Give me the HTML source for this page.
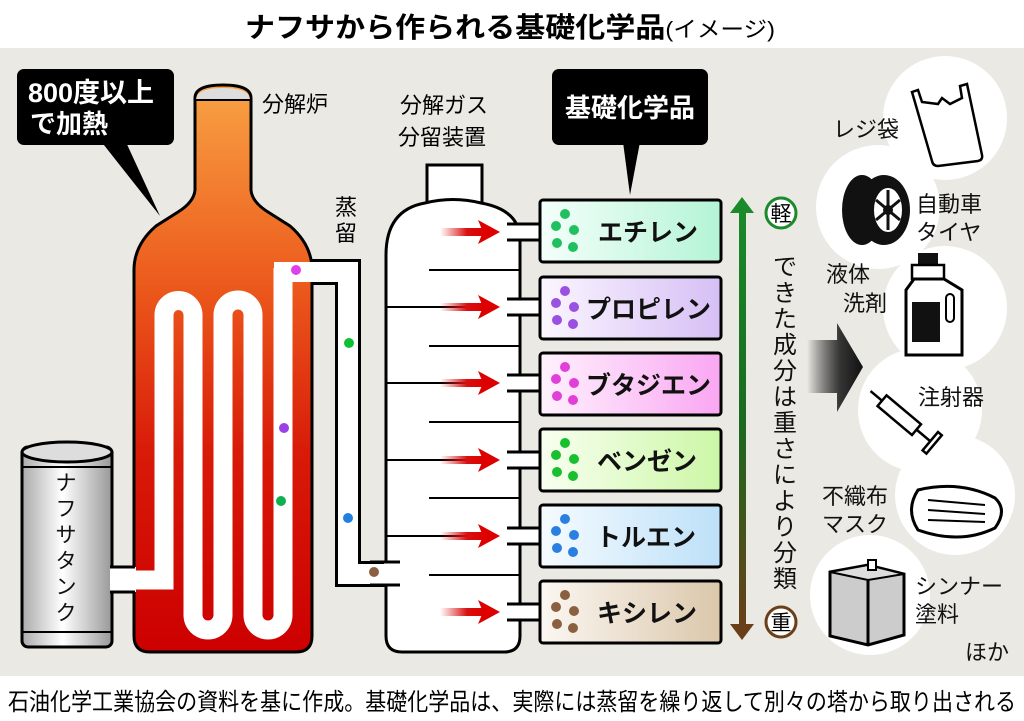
<!DOCTYPE html>
<html><head><meta charset="utf-8"><style>
html,body{margin:0;padding:0;background:#fff;}
svg{display:block;font-family:"Liberation Sans","Noto Sans CJK JP",sans-serif;}
</style></head><body>
<svg width="1024" height="721" viewBox="0 0 1024 721" xmlns="http://www.w3.org/2000/svg">
<defs>
<linearGradient id="fur" x1="0" y1="0" x2="0" y2="1">
<stop offset="0" stop-color="#f8a244"/><stop offset="0.35" stop-color="#ec5a1c"/><stop offset="0.65" stop-color="#d81a08"/><stop offset="1" stop-color="#cc0000"/></linearGradient>
<linearGradient id="tank" x1="0" y1="0" x2="1" y2="0">
<stop offset="0" stop-color="#aaa"/><stop offset="0.45" stop-color="#fff"/><stop offset="1" stop-color="#999"/></linearGradient>
<linearGradient id="arr" x1="0" y1="0" x2="1" y2="0">
<stop offset="0" stop-color="#e02020" stop-opacity="0"/><stop offset="0.6" stop-color="#d81010"/><stop offset="1" stop-color="#d00"/></linearGradient>
<linearGradient id="ga" x1="0" y1="0" x2="0" y2="1">
<stop offset="0" stop-color="#1a8a2a"/><stop offset="0.5" stop-color="#1a6a20"/><stop offset="1" stop-color="#6a3e18"/></linearGradient>
<linearGradient id="big" x1="0" y1="0" x2="1" y2="0">
<stop offset="0" stop-color="#000" stop-opacity="0"/><stop offset="0.6" stop-color="#333"/><stop offset="1" stop-color="#111"/></linearGradient>
<linearGradient id="g1" x1="0" x2="1"><stop offset="0" stop-color="#f4fffa"/><stop offset="1" stop-color="#b4f4d6"/></linearGradient>
<linearGradient id="g2" x1="0" x2="1"><stop offset="0" stop-color="#fbf6ff"/><stop offset="1" stop-color="#d6bff5"/></linearGradient>
<linearGradient id="g3" x1="0" x2="1"><stop offset="0" stop-color="#fff2fd"/><stop offset="1" stop-color="#f9a6f2"/></linearGradient>
<linearGradient id="g4" x1="0" x2="1"><stop offset="0" stop-color="#f8fff0"/><stop offset="1" stop-color="#ccf7a6"/></linearGradient>
<linearGradient id="g5" x1="0" x2="1"><stop offset="0" stop-color="#f6fbff"/><stop offset="1" stop-color="#bde0f8"/></linearGradient>
<linearGradient id="g6" x1="0" x2="1"><stop offset="0" stop-color="#fbf7f2"/><stop offset="1" stop-color="#dbc7ab"/></linearGradient>
<g id="arrow"><rect x="440" y="-4" width="45" height="8" fill="url(#arr)"/><path d="M478,-12 L500,0 L478,12 L483,0 Z" fill="#d00"/></g>
</defs>
<rect x="0" y="0" width="1024" height="721" fill="#fff"/>
<rect x="0" y="48" width="1024" height="628" fill="#ebe9e3"/>
<text x="510" y="37" font-size="28" font-weight="bold" text-anchor="middle" textLength="530" lengthAdjust="spacingAndGlyphs">ナフサから作られる基礎化学品<tspan font-weight="normal" font-size="22">(イメージ)</tspan></text>
<text x="8" y="710" font-size="24" textLength="1008" lengthAdjust="spacingAndGlyphs">石油化学工業協会の資料を基に作成。基礎化学品は、実際には蒸留を繰り返して別々の塔から取り出される</text>

<rect x="17" y="69" width="157" height="76" rx="7" fill="#000"/>
<path d="M100,140 L125,140 L160,216 Z" fill="#000"/>
<text x="28" y="102" font-size="27" fill="#fff" font-weight="bold">800度以上</text>
<text x="30" y="133" font-size="26" fill="#fff" font-weight="bold">で加熱</text>

<path d="M195,98 Q195,85 223,85 Q251,85 251,98 L251,190 Q252,202 268,212 L290,226 Q312,245 312,270 L312,636 Q312,652 296,652 L150,652 Q134,652 134,636 L134,270 Q134,245 156,226 L178,212 Q194,202 195,190 Z" fill="url(#fur)" stroke="#000" stroke-width="3"/>
<path d="M196,100 Q196,88 223,88 Q250,88 250,100 Z" fill="#ddd"/>
<line x1="196" y1="100" x2="250" y2="100" stroke="#000" stroke-width="2"/>
<text x="262" y="112" font-size="22">分解炉</text>

<rect x="22" y="447" width="90" height="200" rx="6" fill="url(#tank)" stroke="#000" stroke-width="3"/>
<ellipse cx="67" cy="452" rx="45" ry="10" fill="#ddd" stroke="#000" stroke-width="3"/>
<line x1="22" y1="467" x2="112" y2="467" stroke="#000" stroke-width="2"/>
<line x1="22" y1="632" x2="112" y2="632" stroke="#000" stroke-width="2"/>
<text font-size="21" text-anchor="middle" fill="#111"><tspan x="66" y="490">ナ</tspan><tspan x="66" y="516">フ</tspan><tspan x="66" y="542">サ</tspan><tspan x="66" y="568">タ</tspan><tspan x="66" y="594">ン</tspan><tspan x="66" y="620">ク</tspan></text>
<rect x="110" y="567" width="26" height="25" fill="#fff"/>
<line x1="110" y1="567" x2="135" y2="567" stroke="#000" stroke-width="3"/>
<line x1="110" y1="592" x2="135" y2="592" stroke="#000" stroke-width="3"/>

<path d="M134,580 L164,580 L164,315 A14.5,14.5 0 0 1 193,315 L193,615 A15,15 0 0 0 223,615 L223,315 A15,15 0 0 1 253,315 L253,615 A15,15 0 0 0 283,615 L283,268" fill="none" stroke="#fff" stroke-width="19"/>
<path d="M312,272 L348,272 L348,574 L402,574" fill="none" stroke="#000" stroke-width="26"/>
<path d="M274,272 L348,272 L348,574 L402,574" fill="none" stroke="#fff" stroke-width="20"/>
<text font-size="22" text-anchor="middle"><tspan x="346" y="215">蒸</tspan><tspan x="346" y="241">留</tspan></text>
<circle cx="296" cy="270" r="5" fill="#e040e8"/>
<circle cx="349" cy="343" r="5" fill="#10c030"/>
<circle cx="284" cy="428" r="5" fill="#9a40e8"/>
<circle cx="281" cy="501" r="5" fill="#10b050"/>
<circle cx="348" cy="518" r="5" fill="#2080e0"/>
<circle cx="374" cy="572" r="5" fill="#8a6040"/>

<rect x="427" y="165" width="55" height="38" fill="#fff" stroke="#000" stroke-width="3"/>
<path d="M386,255 Q386,210 425,203 Q453,196 481,203 Q520,210 520,240 L520,636 Q520,652 504,652 L402,652 Q386,652 386,636 Z" fill="#fff" stroke="#000" stroke-width="3"/>
<rect x="384" y="563" width="20" height="22" fill="#fff"/>
<line x1="370" y1="562" x2="400" y2="562" stroke="#000" stroke-width="3"/>
<line x1="370" y1="585" x2="400" y2="585" stroke="#000" stroke-width="3"/>
<text x="400" y="113" font-size="22">分解ガス</text>
<text x="398" y="145" font-size="22">分留装置</text>
<g stroke="#000" stroke-width="2">
<line x1="429" y1="270" x2="520" y2="270"/><line x1="429" y1="346" x2="520" y2="346"/><line x1="429" y1="422" x2="520" y2="422"/><line x1="429" y1="498" x2="520" y2="498"/><line x1="429" y1="575" x2="520" y2="575"/>
<line x1="386" y1="307" x2="480" y2="307"/><line x1="386" y1="383" x2="480" y2="383"/><line x1="386" y1="460" x2="480" y2="460"/><line x1="386" y1="536" x2="480" y2="536"/>
</g>
<use href="#arrow" y="232"/><use href="#arrow" y="307"/><use href="#arrow" y="383"/><use href="#arrow" y="460"/><use href="#arrow" y="536"/><use href="#arrow" y="612"/>
<g>
<rect x="506" y="224" width="36" height="16" fill="#fff"/><rect x="506" y="299" width="36" height="16" fill="#fff"/><rect x="506" y="375" width="36" height="16" fill="#fff"/><rect x="506" y="452" width="36" height="16" fill="#fff"/><rect x="506" y="528" width="36" height="16" fill="#fff"/><rect x="506" y="604" width="36" height="16" fill="#fff"/>
</g>
<g stroke="#000" stroke-width="3">
<line x1="507" y1="224" x2="541" y2="224"/><line x1="507" y1="240" x2="541" y2="240"/>
<line x1="507" y1="299" x2="541" y2="299"/><line x1="507" y1="315" x2="541" y2="315"/>
<line x1="507" y1="375" x2="541" y2="375"/><line x1="507" y1="391" x2="541" y2="391"/>
<line x1="507" y1="452" x2="541" y2="452"/><line x1="507" y1="468" x2="541" y2="468"/>
<line x1="507" y1="528" x2="541" y2="528"/><line x1="507" y1="544" x2="541" y2="544"/>
<line x1="507" y1="604" x2="541" y2="604"/><line x1="507" y1="620" x2="541" y2="620"/>
</g>

<rect x="552" y="69" width="156" height="76" rx="7" fill="#000"/>
<path d="M623,142 L640,142 L630,195 Z" fill="#000"/>
<text x="630" y="117" font-size="26" fill="#fff" text-anchor="middle" font-weight="bold">基礎化学品</text>

<g stroke="#000" stroke-width="3">
<rect x="540" y="200" width="181" height="62" rx="3" fill="url(#g1)"/>
<rect x="540" y="277" width="181" height="62" rx="3" fill="url(#g2)"/>
<rect x="540" y="353" width="181" height="62" rx="3" fill="url(#g3)"/>
<rect x="540" y="429" width="181" height="62" rx="3" fill="url(#g4)"/>
<rect x="540" y="505" width="181" height="62" rx="3" fill="url(#g5)"/>
<rect x="540" y="581" width="181" height="62" rx="3" fill="url(#g6)"/>
</g>
<g fill="#20c060"><circle cx="565" cy="214" r="5"/><circle cx="556" cy="226" r="5"/><circle cx="574" cy="230" r="5"/><circle cx="557" cy="243" r="5"/><circle cx="573" cy="247" r="5"/></g>
<g fill="#9a50e0"><circle cx="565" cy="291" r="5"/><circle cx="556" cy="303" r="5"/><circle cx="574" cy="307" r="5"/><circle cx="557" cy="320" r="5"/><circle cx="573" cy="324" r="5"/></g>
<g fill="#e040d8"><circle cx="565" cy="367" r="5"/><circle cx="556" cy="379" r="5"/><circle cx="574" cy="383" r="5"/><circle cx="557" cy="396" r="5"/><circle cx="573" cy="400" r="5"/></g>
<g fill="#18c030"><circle cx="565" cy="443" r="5"/><circle cx="556" cy="455" r="5"/><circle cx="574" cy="459" r="5"/><circle cx="557" cy="472" r="5"/><circle cx="573" cy="476" r="5"/></g>
<g fill="#2a80e0"><circle cx="565" cy="519" r="5"/><circle cx="556" cy="531" r="5"/><circle cx="574" cy="535" r="5"/><circle cx="557" cy="548" r="5"/><circle cx="573" cy="552" r="5"/></g>
<g fill="#8a6040"><circle cx="565" cy="595" r="5"/><circle cx="556" cy="607" r="5"/><circle cx="574" cy="611" r="5"/><circle cx="557" cy="624" r="5"/><circle cx="573" cy="628" r="5"/></g>
<g font-size="25" font-weight="bold" fill="#111">
<text x="598" y="241">エチレン</text>
<text x="586" y="318">プロピレン</text>
<text x="586" y="394">ブタジエン</text>
<text x="597" y="470">ベンゼン</text>
<text x="596" y="546">トルエン</text>
<text x="597" y="622">キシレン</text>
</g>

<rect x="739" y="210" width="7" height="418" fill="url(#ga)"/>
<path d="M730,213 L742,197 L754,213 Z" fill="#1a8a2a"/>
<path d="M730,624 L742,640 L754,624 Z" fill="#6a3e18"/>
<circle cx="781" cy="213" r="15" fill="#fff" stroke="#1a8a2a" stroke-width="3"/>
<text x="781" y="221" font-size="21" text-anchor="middle">軽</text>
<circle cx="781" cy="622" r="15" fill="#fff" stroke="#6a3e18" stroke-width="3"/>
<text x="781" y="630" font-size="21" text-anchor="middle">重</text>
<text font-size="24" text-anchor="middle" fill="#111">
<tspan x="785" y="275">で</tspan><tspan x="785" y="301">き</tspan><tspan x="785" y="327">た</tspan><tspan x="785" y="353">成</tspan><tspan x="785" y="379">分</tspan><tspan x="785" y="405">は</tspan><tspan x="785" y="431">重</tspan><tspan x="785" y="457">さ</tspan><tspan x="785" y="483">に</tspan><tspan x="785" y="509">よ</tspan><tspan x="785" y="535">り</tspan><tspan x="785" y="561">分</tspan><tspan x="785" y="587">類</tspan>
</text>

<g fill="#fff">
<circle cx="945" cy="118" r="62"/>
<circle cx="878" cy="207" r="62"/>
<circle cx="945" cy="308" r="62"/>
<circle cx="920" cy="410" r="62"/>
<circle cx="955" cy="495" r="60"/>
<circle cx="870" cy="595" r="60"/>
</g>
<path d="M807,340 L837,340 L837,323 L863,367 L837,412 L837,393 L807,393 Z" fill="url(#big)"/>
<g font-size="22" fill="#111">
<text x="833" y="137">レジ袋</text>
<text x="916" y="212">自動車</text><text x="916" y="240">タイヤ</text>
<text x="826" y="282">液体</text><text x="843" y="311">洗剤</text>
<text x="918" y="405">注射器</text>
<text x="822" y="504">不織布</text><text x="822" y="532">マスク</text>
<text x="915" y="594">シンナー</text><text x="915" y="622">塗料</text><text x="965" y="660">ほか</text>
</g>
<path d="M912,92 L918,90 L922,102 L938,104 L942,98 L950,104 L962,98 L960,86 L967,84 L982,155 Q983,160 978,161 L938,166 Q933,166 932,161 Z" fill="#fff" stroke="#000" stroke-width="2.5"/>
<ellipse cx="862" cy="210" rx="20" ry="35" fill="#111"/>
<ellipse cx="884" cy="210" rx="26" ry="35" fill="#111"/>
<ellipse cx="888" cy="210" rx="15" ry="23" fill="#fff" stroke="#111" stroke-width="2"/>
<circle cx="888" cy="210" r="5" fill="#111"/>
<g stroke="#111" stroke-width="3"><line x1="888" y1="190" x2="888" y2="230"/><line x1="876" y1="200" x2="900" y2="220"/><line x1="876" y1="220" x2="900" y2="200"/></g>
<rect x="918" y="253" width="20" height="12" fill="#111"/>
<rect x="912" y="265" width="32" height="14" fill="#fff" stroke="#000" stroke-width="2.5"/>
<path d="M906,290 L914,279 L944,279 L962,290 L962,355 L906,355 Z" fill="#fff" stroke="#000" stroke-width="3"/>
<rect x="912" y="302" width="28" height="40" fill="#111"/>
<rect x="946" y="294" width="8" height="28" rx="4" fill="#fff" stroke="#000" stroke-width="2"/>
<g transform="rotate(40 905 420)" stroke="#000" stroke-width="2.5" fill="#fff">
<line x1="860" y1="420" x2="875" y2="420"/>
<rect x="875" y="413" width="45" height="14"/>
<line x1="920" y1="420" x2="940" y2="420"/>
<rect x="938" y="408" width="5" height="24"/>
</g>
<path d="M918,490 Q960,480 995,498 Q1008,510 995,528 Q960,545 918,530 Q905,510 918,490 Z" fill="#fff" stroke="#000" stroke-width="3"/>
<g stroke="#000" stroke-width="2"><line x1="928" y1="500" x2="985" y2="505"/><line x1="928" y1="510" x2="985" y2="514"/><line x1="928" y1="520" x2="985" y2="522"/></g>
<path d="M830,572 L868,565 L904,574 L904,635 L868,645 L830,636 Z" fill="#ccc" stroke="#000" stroke-width="3"/>
<line x1="868" y1="580" x2="868" y2="645" stroke="#000" stroke-width="3"/>
<path d="M830,572 L868,565 L904,574 L868,580 Z" fill="#ddd" stroke="#000" stroke-width="2"/>
<rect x="868" y="560" width="8" height="10" fill="#fff" stroke="#000" stroke-width="2"/>
</svg>
</body></html>
